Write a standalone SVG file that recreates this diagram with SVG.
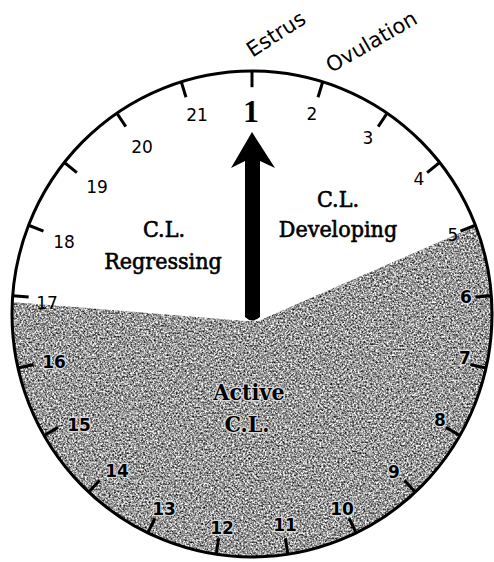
<svg xmlns="http://www.w3.org/2000/svg" width="494" height="562" viewBox="0 0 494 562">
<style>
.num{font-family:"DejaVu Sans","Verdana",sans-serif;font-size:17px;fill:#000;text-anchor:middle}
.numg{font-family:"DejaVu Sans","Verdana",sans-serif;font-size:17px;font-weight:bold;fill:#000;text-anchor:middle;stroke:#d8d8d8;stroke-width:2.5;paint-order:stroke;stroke-linejoin:round}
.out{font-family:"DejaVu Sans","Verdana",sans-serif;font-size:21px;fill:#000;text-anchor:middle}
.lab{font-family:"DejaVu Serif","Liberation Serif",serif;font-stretch:condensed;font-size:23px;fill:#000;stroke:#000;stroke-width:0.6;text-anchor:middle}
.labg{font-family:"DejaVu Serif","Liberation Serif",serif;font-stretch:condensed;font-size:23px;font-weight:bold;fill:#000;text-anchor:middle;stroke:#d8d8d8;stroke-width:2.5;paint-order:stroke;stroke-linejoin:round}
.tick{stroke:#000;stroke-width:3;fill:none}
</style>
<defs>
<clipPath id="face"><ellipse cx="252" cy="314" rx="240" ry="243"/></clipPath>
<filter id="grain" filterUnits="userSpaceOnUse" x="0" y="0" width="494" height="562" color-interpolation-filters="sRGB">
<feTurbulence type="fractalNoise" baseFrequency="0.55" numOctaves="3" seed="7" result="noise"/>
<feColorMatrix in="noise" type="matrix" values="1.6 0 0 0 -0.2  1.6 0 0 0 -0.2  1.6 0 0 0 -0.2  0 0 0 0 1" result="g"/>
<feComposite in="g" in2="SourceAlpha" operator="in"/>
</filter>
</defs>
<rect width="494" height="562" fill="#fff"/>
<g id="active-region" clip-path="url(#face)">
<polygon points="0,300 12,302 100,309 245,321 258,321 478,225 500,225 500,570 0,570" fill="#000" filter="url(#grain)"/>
</g>
<g id="dial">
<g transform="translate(252,314) scale(1,1.0125)">
<circle cx="0" cy="0" r="240" class="tick"/>
<g id="ticks" class="tick">
<line x1="0" y1="-240" x2="0" y2="-224" transform="rotate(0)"/>
<line x1="0" y1="-240" x2="0" y2="-224" transform="rotate(17.142857)"/>
<line x1="0" y1="-240" x2="0" y2="-224" transform="rotate(34.285714)"/>
<line x1="0" y1="-240" x2="0" y2="-224" transform="rotate(51.428571)"/>
<line x1="0" y1="-240" x2="0" y2="-224" transform="rotate(68.571429)"/>
<line x1="0" y1="-240" x2="0" y2="-224" transform="rotate(85.714286)"/>
<line x1="0" y1="-240" x2="0" y2="-224" transform="rotate(102.857143)"/>
<line x1="0" y1="-240" x2="0" y2="-224" transform="rotate(120)"/>
<line x1="0" y1="-240" x2="0" y2="-224" transform="rotate(137.142857)"/>
<line x1="0" y1="-240" x2="0" y2="-224" transform="rotate(154.285714)"/>
<line x1="0" y1="-240" x2="0" y2="-224" transform="rotate(171.428571)"/>
<line x1="0" y1="-240" x2="0" y2="-224" transform="rotate(188.571429)"/>
<line x1="0" y1="-240" x2="0" y2="-224" transform="rotate(205.714286)"/>
<line x1="0" y1="-240" x2="0" y2="-224" transform="rotate(222.857143)"/>
<line x1="0" y1="-240" x2="0" y2="-224" transform="rotate(240)"/>
<line x1="0" y1="-240" x2="0" y2="-224" transform="rotate(257.142857)"/>
<line x1="0" y1="-240" x2="0" y2="-224" transform="rotate(274.285714)"/>
<line x1="0" y1="-240" x2="0" y2="-224" transform="rotate(291.428571)"/>
<line x1="0" y1="-240" x2="0" y2="-224" transform="rotate(308.571429)"/>
<line x1="0" y1="-240" x2="0" y2="-224" transform="rotate(325.714286)"/>
<line x1="0" y1="-240" x2="0" y2="-224" transform="rotate(342.857143)"/>
</g>
</g>
</g>
<g id="day-labels">
<text x="251" y="122" style="font-family:'Liberation Serif',serif;font-size:32px;font-weight:bold;text-anchor:middle">1</text>
<text class="num" x="312" y="120">2</text>
<text class="num" x="368" y="144">3</text>
<text class="num" x="419" y="185">4</text>
<text class="num" x="453" y="241">5</text>
<text class="numg" x="466" y="303">6</text>
<text class="numg" x="465" y="364">7</text>
<text class="numg" x="440" y="426">8</text>
<text class="numg" x="394" y="478">9</text>
<text class="numg" x="342" y="515">10</text>
<text class="numg" x="285" y="531">11</text>
<text class="numg" x="222" y="534">12</text>
<text class="numg" x="164" y="515">13</text>
<text class="numg" x="117" y="477">14</text>
<text class="numg" x="79" y="431">15</text>
<text class="numg" x="54" y="368">16</text>
<text class="num" x="47" y="309">17</text>
<text class="num" x="64" y="248">18</text>
<text class="num" x="97" y="193">19</text>
<text class="num" x="142" y="153">20</text>
<text class="num" x="197" y="121">21</text>
</g>
<g id="event-labels">
<text class="out" transform="translate(280,40) rotate(-33)">Estrus</text>
<text class="out" transform="translate(375,48) rotate(-30)">Ovulation</text>
</g>
<g id="arrow">
<path d="M252,132 L275,168 L260,161 L260,317 Q252,324 245,317 L245,161 L231,168 Z" fill="#000"/>
</g>
<g id="phase-labels">
<text class="lab" x="164" y="237">C.L.</text>
<text class="lab" x="163" y="269">Regressing</text>
<text class="lab" x="338" y="207">C.L.</text>
<text class="lab" x="338" y="237">Developing</text>
<text class="labg" x="249" y="400">Active</text>
<text class="labg" x="247" y="432">C.L.</text>
</g>
</svg>
